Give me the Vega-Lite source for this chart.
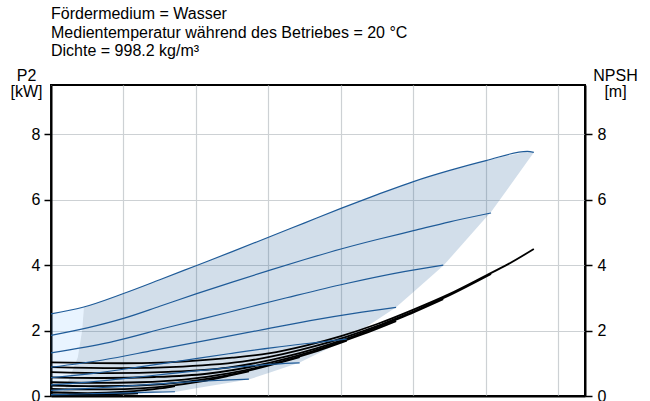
{
  "$schema": "https://vega.github.io/schema/vega-lite/v6.json",
  "width": 534,
  "height": 311,
  "autosize": "none",
  "padding": {"left": 51, "top": 85, "right": 65, "bottom": 5},
  "background": "white",
  "title": {
    "text": ["Fördermedium = Wasser", "Medientemperatur während des Betriebes = 20 °C", "Dichte = 998.2 kg/m³"],
    "anchor": "start", "frame": "group", "font": "Liberation Sans", "fontSize": 16,
    "fontWeight": "normal", "lineHeight": 18.5, "offset": 8, "color": "black"
  },
  "config": {
    "view": {"stroke": "black", "strokeWidth": 2},
    "axis": {
      "labelFont": "Liberation Sans", "labelFontSize": 16, "labelColor": "black",
      "tickColor": "black", "tickSize": 7, "tickWidth": 1.5,
      "domainColor": "black", "domainWidth": 2,
      "gridColor": "#cdd1d4", "gridWidth": 1.2,
      "titleFont": "Liberation Sans", "titleFontSize": 16, "titleFontWeight": "normal", "titleColor": "black"
    }
  },
  "datasets": {
    "env": [
      {"q": 0.13, "top": 0, "low": 0},
      {"q": 0.2, "top": 0.25, "low": 0},
      {"q": 0.26, "top": 0.57, "low": 0},
      {"q": 0.37, "top": 1.18, "low": 0},
      {"q": 0.43, "top": 2.0, "low": 0.001},
      {"q": 0.455, "top": 2.72, "low": 0.002},
      {"q": 0.5, "top": 2.74, "low": 0.003},
      {"q": 0.86, "top": 3.02, "low": 0.016},
      {"q": 1.0, "top": 3.13, "low": 0.034},
      {"q": 1.5, "top": 3.55, "low": 0.099},
      {"q": 1.71, "top": 3.73, "low": 0.126},
      {"q": 2.0, "top": 3.98, "low": 0.234},
      {"q": 2.5, "top": 4.41, "low": 0.42},
      {"q": 2.74, "top": 4.62, "low": 0.51},
      {"q": 3.0, "top": 4.85, "low": 0.7},
      {"q": 3.43, "top": 5.23, "low": 1.02},
      {"q": 3.5, "top": 5.29, "low": 1.1},
      {"q": 4.0, "top": 5.73, "low": 1.64},
      {"q": 4.08, "top": 5.8, "low": 1.73},
      {"q": 4.5, "top": 6.15, "low": 2.33},
      {"q": 4.76, "top": 6.36, "low": 2.71},
      {"q": 5.0, "top": 6.55, "low": 3.18},
      {"q": 5.41, "top": 6.83, "low": 3.98},
      {"q": 5.5, "top": 6.89, "low": 4.2},
      {"q": 6.0, "top": 7.19, "low": 5.45},
      {"q": 6.07, "top": 7.23, "low": 5.62},
      {"q": 6.57, "top": 7.47, "low": 7.16},
      {"q": 6.66, "top": 7.44, "low": 7.44}
    ],
    "minflow": [
      {"q": 0, "top": 2.51, "low": 0},
      {"q": 0.13, "top": 2.58, "low": 0},
      {"q": 0.2, "top": 2.61, "low": 0.25},
      {"q": 0.26, "top": 2.64, "low": 0.57},
      {"q": 0.37, "top": 2.68, "low": 1.18},
      {"q": 0.43, "top": 2.7, "low": 2.0},
      {"q": 0.455, "top": 2.72, "low": 2.72}
    ],
    "p2": [
      {"c": 1, "q": 0, "p": 2.51}, {"c": 1, "q": 0.44, "p": 2.71}, {"c": 1, "q": 1, "p": 3.13}, {"c": 1, "q": 1.5, "p": 3.55},
      {"c": 1, "q": 2, "p": 3.98}, {"c": 1, "q": 2.5, "p": 4.41}, {"c": 1, "q": 3, "p": 4.85}, {"c": 1, "q": 3.5, "p": 5.29},
      {"c": 1, "q": 4, "p": 5.73}, {"c": 1, "q": 4.5, "p": 6.15}, {"c": 1, "q": 5, "p": 6.55}, {"c": 1, "q": 5.5, "p": 6.89},
      {"c": 1, "q": 6, "p": 7.19}, {"c": 1, "q": 6.57, "p": 7.47}, {"c": 1, "q": 6.66, "p": 7.44},
      {"c": 2, "q": 0, "p": 1.85}, {"c": 2, "q": 0.5, "p": 2.08}, {"c": 2, "q": 1, "p": 2.37}, {"c": 2, "q": 1.5, "p": 2.74},
      {"c": 2, "q": 2, "p": 3.12}, {"c": 2, "q": 2.5, "p": 3.48}, {"c": 2, "q": 3, "p": 3.83}, {"c": 2, "q": 3.5, "p": 4.17},
      {"c": 2, "q": 4, "p": 4.49}, {"c": 2, "q": 4.5, "p": 4.78}, {"c": 2, "q": 5, "p": 5.05}, {"c": 2, "q": 5.5, "p": 5.32},
      {"c": 2, "q": 6.07, "p": 5.59},
      {"c": 3, "q": 0, "p": 1.32}, {"c": 3, "q": 0.81, "p": 1.64}, {"c": 3, "q": 1.62, "p": 2.1}, {"c": 3, "q": 2.44, "p": 2.55},
      {"c": 3, "q": 3.25, "p": 3.0}, {"c": 3, "q": 4.06, "p": 3.43}, {"c": 3, "q": 4.87, "p": 3.8}, {"c": 3, "q": 5.41, "p": 4.0},
      {"c": 4, "q": 0, "p": 0.88}, {"c": 4, "q": 0.715, "p": 1.1}, {"c": 4, "q": 1.43, "p": 1.4}, {"c": 4, "q": 2.145, "p": 1.7},
      {"c": 4, "q": 2.86, "p": 2.0}, {"c": 4, "q": 3.575, "p": 2.3}, {"c": 4, "q": 4.29, "p": 2.56}, {"c": 4, "q": 4.76, "p": 2.71},
      {"c": 5, "q": 0, "p": 0.56}, {"c": 5, "q": 0.613, "p": 0.7}, {"c": 5, "q": 1.226, "p": 0.89}, {"c": 5, "q": 1.839, "p": 1.09},
      {"c": 5, "q": 2.452, "p": 1.29}, {"c": 5, "q": 3.065, "p": 1.48}, {"c": 5, "q": 3.678, "p": 1.64}, {"c": 5, "q": 4.08, "p": 1.74},
      {"c": 6, "q": 0, "p": 0.34}, {"c": 6, "q": 0.515, "p": 0.425}, {"c": 6, "q": 1.03, "p": 0.54}, {"c": 6, "q": 1.545, "p": 0.66},
      {"c": 6, "q": 2.06, "p": 0.78}, {"c": 6, "q": 2.575, "p": 0.89}, {"c": 6, "q": 3.09, "p": 0.975}, {"c": 6, "q": 3.43, "p": 1.01},
      {"c": 7, "q": 0, "p": 0.173}, {"c": 7, "q": 0.41, "p": 0.216}, {"c": 7, "q": 0.82, "p": 0.274}, {"c": 7, "q": 1.23, "p": 0.334},
      {"c": 7, "q": 1.64, "p": 0.395}, {"c": 7, "q": 2.05, "p": 0.451}, {"c": 7, "q": 2.46, "p": 0.495}, {"c": 7, "q": 2.73, "p": 0.515},
      {"c": 8, "q": 0, "p": 0.043}, {"c": 8, "q": 0.257, "p": 0.053}, {"c": 8, "q": 0.514, "p": 0.068}, {"c": 8, "q": 0.771, "p": 0.082},
      {"c": 8, "q": 1.028, "p": 0.098}, {"c": 8, "q": 1.285, "p": 0.111}, {"c": 8, "q": 1.542, "p": 0.122}, {"c": 8, "q": 1.71, "p": 0.13}
    ],
    "npsh": [
      {"c": 1, "q": 0, "n": 1.03}, {"c": 1, "q": 0.5, "n": 1.01}, {"c": 1, "q": 1, "n": 1.0}, {"c": 1, "q": 1.5, "n": 1.02},
      {"c": 1, "q": 2, "n": 1.08}, {"c": 1, "q": 2.5, "n": 1.17}, {"c": 1, "q": 3, "n": 1.3}, {"c": 1, "q": 3.5, "n": 1.53},
      {"c": 1, "q": 4, "n": 1.83}, {"c": 1, "q": 4.5, "n": 2.2}, {"c": 1, "q": 5, "n": 2.64}, {"c": 1, "q": 5.5, "n": 3.12},
      {"c": 1, "q": 6, "n": 3.68}, {"c": 1, "q": 6.3, "n": 4.02}, {"c": 1, "q": 6.66, "n": 4.49},
      {"c": 2, "q": 0, "n": 0.88}, {"c": 2, "q": 0.91, "n": 0.85}, {"c": 2, "q": 1.82, "n": 0.9}, {"c": 2, "q": 2.73, "n": 1.08},
      {"c": 2, "q": 3.64, "n": 1.52}, {"c": 2, "q": 4.56, "n": 2.19}, {"c": 2, "q": 5.47, "n": 3.05}, {"c": 2, "q": 6.07, "n": 3.73},
      {"c": 3, "q": 0, "n": 0.73}, {"c": 3, "q": 0.81, "n": 0.7}, {"c": 3, "q": 1.62, "n": 0.74}, {"c": 3, "q": 2.44, "n": 0.87},
      {"c": 3, "q": 3.25, "n": 1.21}, {"c": 3, "q": 4.06, "n": 1.74}, {"c": 3, "q": 4.87, "n": 2.43}, {"c": 3, "q": 5.41, "n": 2.96},
      {"c": 4, "q": 0, "n": 0.57}, {"c": 4, "q": 0.72, "n": 0.55}, {"c": 4, "q": 1.43, "n": 0.58}, {"c": 4, "q": 2.15, "n": 0.68},
      {"c": 4, "q": 2.86, "n": 0.94}, {"c": 4, "q": 3.58, "n": 1.35}, {"c": 4, "q": 4.29, "n": 1.88}, {"c": 4, "q": 4.76, "n": 2.29},
      {"c": 5, "q": 0, "n": 0.42}, {"c": 5, "q": 0.61, "n": 0.4}, {"c": 5, "q": 1.23, "n": 0.42}, {"c": 5, "q": 1.84, "n": 0.5},
      {"c": 5, "q": 2.45, "n": 0.69}, {"c": 5, "q": 3.07, "n": 0.99}, {"c": 5, "q": 3.68, "n": 1.38}, {"c": 5, "q": 4.08, "n": 1.69},
      {"c": 6, "q": 0, "n": 0.32}, {"c": 6, "q": 0.52, "n": 0.3}, {"c": 6, "q": 1.03, "n": 0.31}, {"c": 6, "q": 1.55, "n": 0.36},
      {"c": 6, "q": 2.06, "n": 0.49}, {"c": 6, "q": 2.58, "n": 0.7}, {"c": 6, "q": 3.09, "n": 0.98}, {"c": 6, "q": 3.43, "n": 1.19},
      {"c": 7, "q": 0, "n": 0.22}, {"c": 7, "q": 0.41, "n": 0.2}, {"c": 7, "q": 0.82, "n": 0.2}, {"c": 7, "q": 1.23, "n": 0.23},
      {"c": 7, "q": 1.64, "n": 0.31}, {"c": 7, "q": 2.05, "n": 0.44}, {"c": 7, "q": 2.46, "n": 0.62}, {"c": 7, "q": 2.73, "n": 0.75},
      {"c": 8, "q": 0, "n": 0.12}, {"c": 8, "q": 0.26, "n": 0.1}, {"c": 8, "q": 0.51, "n": 0.09}, {"c": 8, "q": 0.77, "n": 0.1},
      {"c": 8, "q": 1.03, "n": 0.13}, {"c": 8, "q": 1.29, "n": 0.18}, {"c": 8, "q": 1.54, "n": 0.24}, {"c": 8, "q": 1.71, "n": 0.3},
      {"c": 9, "q": 0, "n": 0.06}, {"c": 9, "q": 0.3, "n": 0.05}, {"c": 9, "q": 0.6, "n": 0.05}, {"c": 9, "q": 0.9, "n": 0.06}, {"c": 9, "q": 1.2, "n": 0.08}
    ]
  },
  "encoding": {
    "x": {
      "field": "q", "type": "quantitative",
      "scale": {"domain": [0, 7.366], "nice": false, "zero": false},
      "axis": {"grid": true, "values": [0, 1, 2, 3, 4, 5, 6, 7], "labels": false, "ticks": false, "title": null}
    }
  },
  "layer": [
    {
      "data": {"name": "env"},
      "mark": {"type": "area", "color": "#1f5b98", "opacity": 0.2},
      "encoding": {
        "y": {
          "field": "top", "type": "quantitative",
          "scale": {"domain": [0, 9.5], "nice": false},
          "axis": {"orient": "left", "values": [0, 2, 4, 6, 8], "grid": true, "title": ["P2", "[kW]"],
            "titleAngle": 0, "titleAlign": "center", "titleBaseline": "alphabetic", "titleX": -25, "titleY": -5,
            "titleLineHeight": 16.5, "labelPadding": 4}
        },
        "y2": {"field": "low"}
      }
    },
    {
      "data": {"name": "minflow"},
      "mark": {"type": "area", "color": "#4da6ff", "opacity": 0.12},
      "encoding": {
        "y": {"field": "top", "type": "quantitative", "scale": {"domain": [0, 9.5], "nice": false}, "axis": null},
        "y2": {"field": "low"}
      }
    },
    {
      "data": {"name": "npsh"},
      "mark": {"type": "line", "color": "black", "strokeWidth": 1.8, "interpolate": "monotone"},
      "encoding": {
        "detail": {"field": "c", "type": "nominal"},
        "y": {
          "field": "n", "type": "quantitative",
          "scale": {"domain": [0, 9.5], "nice": false},
          "axis": {"orient": "right", "values": [0, 2, 4, 6, 8], "grid": false, "title": ["NPSH", "[m]"],
            "titleAngle": 0, "titleAlign": "center", "titleBaseline": "alphabetic", "titleX": 30, "titleY": -5,
            "titleLineHeight": 16.5, "labelPadding": 5}
        }
      }
    },
    {
      "data": {"name": "p2"},
      "mark": {"type": "line", "color": "#1f5b98", "strokeWidth": 1.2, "interpolate": "monotone"},
      "encoding": {
        "detail": {"field": "c", "type": "nominal"},
        "y": {"field": "p", "type": "quantitative", "scale": {"domain": [0, 9.5], "nice": false}, "axis": null}
      }
    }
  ],
  "resolve": {"scale": {"y": "independent"}}
}
